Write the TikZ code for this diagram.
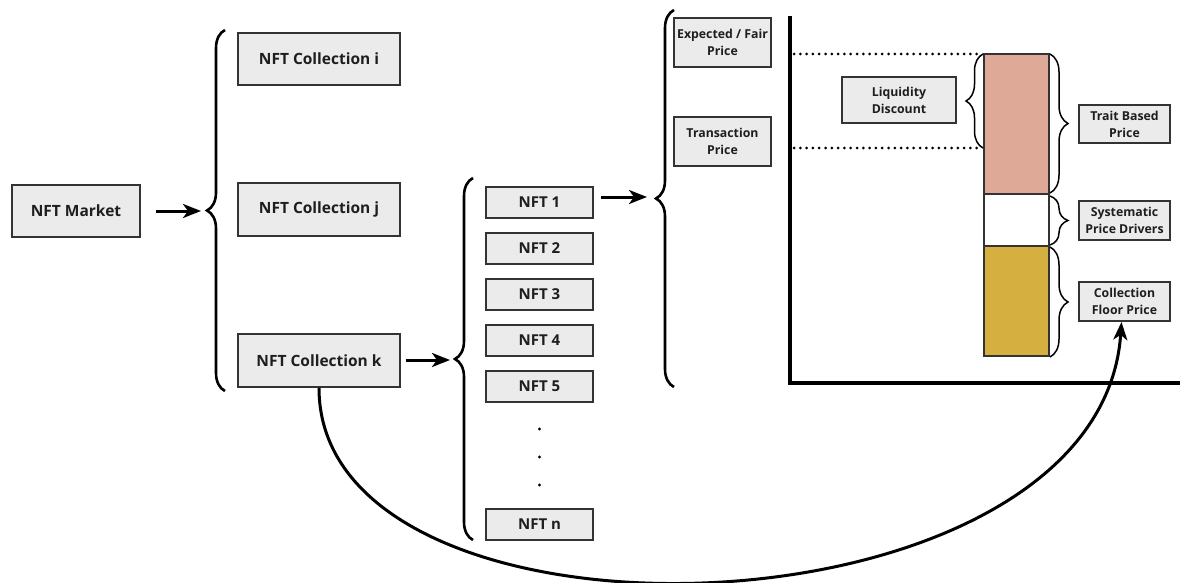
\documentclass[tikz,border=0pt]{standalone}
\usepackage{fontspec}
\setmainfont{Open Sans}
\usetikzlibrary{decorations.pathreplacing,arrows.meta,calc}
\definecolor{boxfill}{HTML}{EBEBEB}
\definecolor{boxdraw}{HTML}{333333}
\definecolor{pinkbar}{HTML}{DFA998}
\definecolor{goldbar}{HTML}{D5AF40}
\definecolor{txt}{HTML}{1E1E1E}
\tikzset{
  box/.style={draw=boxdraw, fill=boxfill, line width=1.8pt, text=txt, align=center, inner sep=0pt},
  bigf/.style={font=\fontsize{15.5}{18}\selectfont\bfseries},
  midf/.style={font=\fontsize{15}{17}\selectfont\bfseries},
  smallf/.style={font=\fontsize{12.3}{17}\selectfont\bfseries},
  arr/.style={line width=3pt, -{Stealth[length=18pt,width=14pt,inset=5pt]}},
  bigbrace/.style={decorate, decoration={brace, amplitude=18pt}, line width=2.6pt},
  smallbrace/.style={decorate, decoration={brace, amplitude=16pt}, line width=1.5pt},
  barseg/.style={draw=boxdraw, line width=1.6pt},
}
\begin{document}
\begin{tikzpicture}[x=1pt,y=-1pt]
\useasboundingbox (0,0) rectangle (1180,583);
% left part
\node[box,bigf,minimum width=128pt,minimum height=52pt] (market) at (76,211) {NFT Market};
\node[box,bigf,minimum width=162pt,minimum height=52pt] (ci) at (319,59) {NFT Collection i};
\node[box,bigf,minimum width=162pt,minimum height=53pt] (cj) at (319,209.5) {NFT Collection j};
\node[box,bigf,minimum width=162pt,minimum height=53pt] (ck) at (319,360.5) {NFT Collection k};
\draw[bigbrace] (225,391) -- (225,30);
\coordinate (b1) at (201,211);
\draw[arr, shorten <=15pt] (market.east) -- (b1);
% NFTs
\foreach \n/\lab/\y in {n1/NFT 1/202.5, n2/NFT 2/248.5, n3/NFT 3/294.5, n4/NFT 4/340.5, n5/NFT 5/386.5, nn/NFT n/524.5}
  \node[box,midf,minimum width=107pt,minimum height=31pt] (\n) at (539.5,\y) {\lab};
\foreach \y [count=\i] in {429,457,485}
  \fill (539.5,\y) circle (1.7pt) coordinate (dot\i);
\draw[bigbrace] (473,540) -- (473,178);
\coordinate (b2) at (450,360);
\draw[arr, shorten <=5pt] (ck.east |- b2) -- (b2);
% price boxes
\draw[bigbrace] (674,387) -- (674,10);
\coordinate (b3) at (647,197);
\draw[arr, shorten <=7pt] (n1.east |- b3) -- (b3);
\node[box,smallf,minimum width=97pt,minimum height=49pt] (exp) at (722.5,42.5) {Expected / Fair\\Price};
\node[box,smallf,minimum width=97pt,minimum height=49pt] (trans) at (722.5,141.5) {Transaction\\Price};
% axes
\coordinate (ytop) at (790,16);
\coordinate (orig) at (790,383);
\coordinate (xend) at (1180,383);
\draw[line width=3.2pt] (ytop) -- (orig) -- (xend);
% bar
\draw[barseg, fill=pinkbar] (984,54) rectangle (1049,194);
\draw[barseg, fill=white] (984,194) rectangle (1049,246);
\draw[barseg, fill=goldbar] (984,246) rectangle (1049,356);
% dotted lines
\draw[line width=3pt, line cap=round, dash pattern=on 0pt off 6.3pt] (794,54) -- (982,54);
\draw[line width=3pt, line cap=round, dash pattern=on 0pt off 6.3pt] (794,148) -- (982,148);
% liquidity
\node[box,smallf,minimum width=114pt,minimum height=46pt] (liq) at (899,100) {Liquidity\\Discount};
\draw[smallbrace, decoration={amplitude=17pt}] (983,148) -- (983,54);
% right braces
\draw[smallbrace, decoration={amplitude=18pt}] (1050,54) -- (1050,193);
\draw[smallbrace, decoration={amplitude=18pt}] (1050,196) -- (1050,245);
\draw[smallbrace, decoration={amplitude=18pt}] (1050,247) -- (1050,357);
\node[box,smallf,minimum width=91pt,minimum height=38pt] (trait) at (1124.5,124) {Trait Based\\Price};
\node[box,smallf,minimum width=91pt,minimum height=39pt] (sys) at (1124.5,220.5) {Systematic\\Price Drivers};
\node[box,smallf,minimum width=91pt,minimum height=39pt] (floor) at (1124.5,301.5) {Collection\\Floor Price};
% curve
\draw[arr] (ck.south) .. controls (319,668) and (1100,645) .. ([xshift=-3pt]floor.south);
\end{tikzpicture}
\end{document}
